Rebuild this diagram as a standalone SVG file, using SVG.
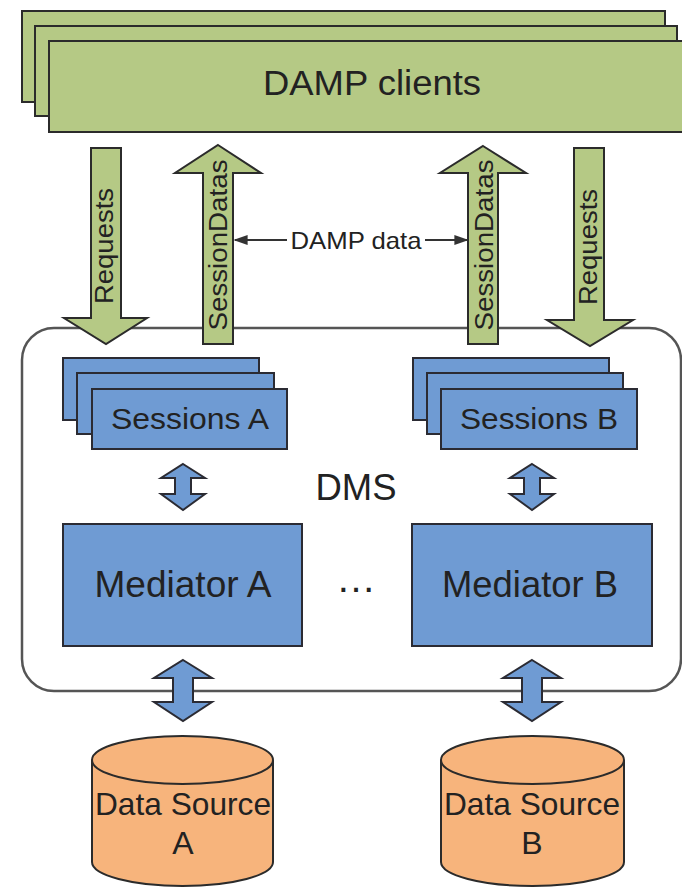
<svg xmlns="http://www.w3.org/2000/svg" width="682" height="888" viewBox="0 0 682 888">
<defs>
<style>
.green{fill:#b5c985;stroke:#2b2b2b;stroke-width:2}
.blue{fill:#6f9bd3;stroke:#2b2b33;stroke-width:2}
.orange{fill:#f7b47c;stroke:#2b2b2b;stroke-width:2}
.dms{fill:#ffffff;stroke:#555555;stroke-width:2.5}
.t{font-family:"Liberation Sans",Arial,sans-serif;fill:#222222}
.line{stroke:#333333;stroke-width:2;fill:none}
</style>
<marker id="ah" viewBox="0 0 10 10" refX="9" refY="5" markerWidth="7" markerHeight="7" orient="auto">
<path d="M0,1.5 L10,5 L0,8.5 Z" fill="#333333"/>
</marker>
</defs>
<rect width="682" height="888" fill="#ffffff"/>

<g id="dms">
<rect class="dms" x="22" y="328" width="659" height="363" rx="32"/>
<text class="t" x="356" y="500" font-size="36" text-anchor="middle" textLength="81" lengthAdjust="spacingAndGlyphs">DMS</text>
</g>

<g id="damp-clients">
<rect class="green" x="22" y="11" width="643" height="91"/>
<rect class="green" x="35" y="26" width="642" height="90"/>
<rect class="green" x="49" y="41" width="650" height="91"/>
<text class="t" x="372" y="95" font-size="35" text-anchor="middle" textLength="218" lengthAdjust="spacingAndGlyphs">DAMP clients</text>
</g>

<g id="sessions-a">
<rect class="blue" x="63" y="358" width="196" height="62"/>
<rect class="blue" x="77" y="373" width="197" height="61"/>
<rect class="blue" x="92" y="389" width="195" height="60"/>
<text class="t" x="190" y="429" font-size="30" text-anchor="middle" textLength="158" lengthAdjust="spacingAndGlyphs">Sessions A</text>
</g>

<g id="sessions-b">
<rect class="blue" x="413" y="358" width="196" height="62"/>
<rect class="blue" x="427" y="373" width="196" height="61"/>
<rect class="blue" x="441" y="389" width="196" height="60"/>
<text class="t" x="539" y="429" font-size="30" text-anchor="middle" textLength="158" lengthAdjust="spacingAndGlyphs">Sessions B</text>
</g>

<g id="mediator-a">
<rect class="blue" x="63" y="524" width="239" height="122"/>
<text class="t" x="183" y="597" font-size="37" text-anchor="middle" textLength="177" lengthAdjust="spacingAndGlyphs">Mediator A</text>
</g>

<g id="mediator-b">
<rect class="blue" x="412" y="524" width="240" height="122"/>
<text class="t" x="530" y="597" font-size="37" text-anchor="middle" textLength="176" lengthAdjust="spacingAndGlyphs">Mediator B</text>
</g>

<g id="ellipsis">
<text class="t" x="356" y="592" font-size="40" text-anchor="middle">…</text>
</g>

<g id="data-source-a">
<path class="orange" d="M92,760 V862 A90.5,24 0 0 0 273,862 V760"/>
<ellipse class="orange" cx="182.5" cy="760" rx="90.5" ry="24"/>
<text class="t" x="183" y="815" font-size="32" text-anchor="middle" textLength="176" lengthAdjust="spacingAndGlyphs">Data Source</text>
<text class="t" x="183" y="854" font-size="32" text-anchor="middle">A</text>
</g>

<g id="data-source-b">
<path class="orange" d="M441,760 V862 A91.5,24 0 0 0 624,862 V760"/>
<ellipse class="orange" cx="532.5" cy="760" rx="91.5" ry="24"/>
<text class="t" x="532" y="815" font-size="32" text-anchor="middle" textLength="176" lengthAdjust="spacingAndGlyphs">Data Source</text>
<text class="t" x="532" y="854" font-size="32" text-anchor="middle">B</text>
</g>

<g id="connectors">
<path class="green" d="M91,148 H121 V318 H147 L106,344 L64,318 H91 Z"/>
<text class="t" transform="translate(113,246) rotate(-90)" x="0" y="0" font-size="25" text-anchor="middle" textLength="116" lengthAdjust="spacingAndGlyphs">Requests</text>
<path class="green" d="M218,145 L261,173 H233 V344 H203 V173 H175 Z"/>
<text class="t" transform="translate(227,245) rotate(-90)" x="0" y="0" font-size="26" text-anchor="middle" textLength="171" lengthAdjust="spacingAndGlyphs">SessionDatas</text>
<path class="green" d="M483,146 L526,173 H498 V344 H468 V173 H440 Z"/>
<text class="t" transform="translate(493,245) rotate(-90)" x="0" y="0" font-size="26" text-anchor="middle" textLength="171" lengthAdjust="spacingAndGlyphs">SessionDatas</text>
<path class="green" d="M574,148 H604 V320 H633 L590,346 L547,320 H574 Z"/>
<text class="t" transform="translate(597,247) rotate(-90)" x="0" y="0" font-size="25" text-anchor="middle" textLength="116" lengthAdjust="spacingAndGlyphs">Requests</text>

<line class="line" x1="287" y1="240" x2="235" y2="240" marker-end="url(#ah)"/>
<line class="line" x1="425" y1="240" x2="467" y2="240" marker-end="url(#ah)"/>
<text class="t" x="356" y="249" font-size="24" text-anchor="middle" textLength="131" lengthAdjust="spacingAndGlyphs">DAMP data</text>

<path class="blue" d="M183,464 L205,478 H191 V494 H205 L183,510 L161,494 H175 V478 H161 Z"/>
<path class="blue" d="M532,464 L554,478 H540 V494 H554 L532,510 L510,494 H524 V478 H510 Z"/>
<path class="blue" d="M183,660 L212,678 H193 V702 H212 L183,721 L154,702 H173 V678 H154 Z"/>
<path class="blue" d="M532,660 L561,678 H542 V702 H561 L532,721 L503,702 H522 V678 H503 Z"/>
</g>
</svg>
